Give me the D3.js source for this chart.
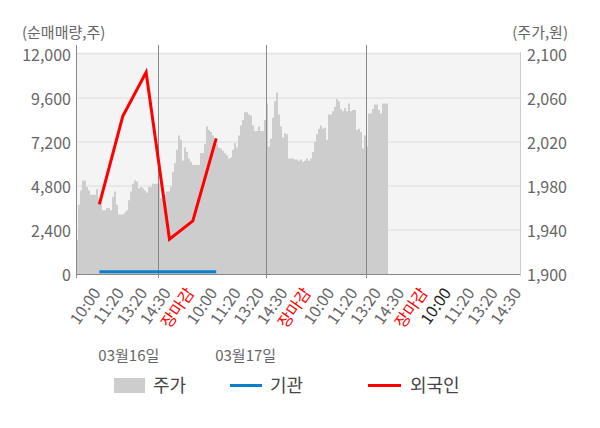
<!DOCTYPE html>
<html><head><meta charset="utf-8">
<script src="https://cdn.jsdelivr.net/npm/d3@7"></script>
<style>
html,body{margin:0;padding:0;background:#fff;}
text{font-family:"Noto Sans CJK KR","Noto Sans",sans-serif;}
</style></head>
<body>
<svg id="c" width="600" height="428"></svg>
<script>
// ---- data ----
const xLabels = ["10:00","11:20","13:20","14:30","장마감","10:00","11:20","13:20","14:30","장마감","10:00","11:20","13:20","14:30","장마감","10:00","11:20","13:20","14:30"];
const labelColors = ["#666","#666","#666","#666","red","#666","#666","#666","#666","red","#666","#666","#666","#666","red","#222","#666","#666","#666"];
const dateLabels = ["03월16일","03월17일"];
const dateLabelAt = [0, 5];
const foreignNet = [3800, 8600, 11000, 1900, 2900, 7400];
const institutionNet = [70, 70, 70, 70, 70, 70];
const priceSlots = 222;
const dayBreaks = [41, 95, 145];
const price = [1931,1963,1976,1985,1985,1979,1976,1972,1972,1972,1977,1967,1963,1958,1958,1960,1960,1958,1970,1975,
1963,1954,1954,1954,1956,1958,1967,1975,1982,1985,1984,1978,1979,1978,1976,1974,1979,1979,1982,1982,
1982,1982,1969,1968,1972,1975,1975,1979,1993,2001,2013,2026,2022,2003,2015,2011,2005,2002,1999,1999,
1999,1999,2010,2010,2018,2034,2031,2029,2026,2020,2018,2015,2014,2012,2010,2008,2005,2006,2013,2019,
2015,2026,2035,2040,2047,2047,2045,2044,2035,2030,2030,2034,2030,2030,2040,2055,2016,2023,2042,2057,
2065,2045,2034,2024,2028,2027,2005,2005,2005,2004,2004,2003,2004,2002,2003,2005,2003,2005,2011,2020,
2027,2032,2035,2032,2033,2022,2045,2045,2048,2052,2059,2057,2050,2048,2051,2048,2055,2048,2049,2049,
2031,2032,2029,2014,2026,2016,2046,2046,2050,2054,2054,2049,2046,2055,2055,2055,2051];
const volTicks = [0,2400,4800,7200,9600,12000];
const priceTicks = [1900,1940,1980,2020,2060,2100];

// ---- layout ----
const L = 76, R = 520, T = 54, B = 274;
const svg = d3.select("#c");
const yVol = d3.scaleLinear().domain([0,12000]).range([B,T]);
const yPrice = d3.scaleLinear().domain([1900,2100]).range([B,T]);
const xCat = d3.scalePoint().domain(d3.range(xLabels.length+1)).range([L,R]);
const xPrice = d3.scaleLinear().domain([0,priceSlots]).range([L,R]);

// background
svg.append("rect").attr("x",L).attr("y",52).attr("width",R-L).attr("height",B-52).attr("fill","#f4f4f4");

// gridlines
svg.append("g").selectAll("line").data(volTicks.slice(1)).join("line")
  .attr("x1",L).attr("x2",R).attr("y1",d=>yVol(d)).attr("y2",d=>yVol(d))
  .attr("stroke","#dcdcdc").attr("stroke-width",1);

// price area
svg.append("path").datum(price)
  .attr("d", d3.area().x((d,i)=>xPrice(i)).y0(B).y1(d=>yPrice(d)).curve(d3.curveStepAfter))
  .attr("fill","#cdcdcd");

// day separators
svg.append("g").selectAll("line").data(dayBreaks).join("line")
  .attr("x1",d=>Math.round(xPrice(d))+0.5).attr("x2",d=>Math.round(xPrice(d))+0.5)
  .attr("y1",45).attr("y2",B+4).attr("stroke","#888").attr("stroke-width",1);

// axes lines
svg.append("line").attr("x1",L+0.5).attr("x2",L+0.5).attr("y1",45).attr("y2",B+4).attr("stroke","#888");
svg.append("line").attr("x1",R+0.5).attr("x2",R+0.5).attr("y1",52).attr("y2",B+2).attr("stroke","#ccc");
svg.append("line").attr("x1",L).attr("x2",R).attr("y1",B+0.5).attr("y2",B+0.5).attr("stroke","#888");

// institution line
svg.append("path").datum(institutionNet)
  .attr("d", d3.line().x((d,i)=>xCat(i+1)).y(d=>yVol(d)-1))
  .attr("fill","none").attr("stroke","#0a7fce").attr("stroke-width",3);

// foreign line
svg.append("path").datum(foreignNet)
  .attr("d", d3.line().x((d,i)=>xCat(i+1)).y(d=>yVol(d)))
  .attr("fill","none").attr("stroke","#ff0000").attr("stroke-width",3).attr("stroke-linejoin","miter");

// axis labels
const fmt = d3.format(",");
svg.append("g").selectAll("text").data(volTicks).join("text")
  .attr("x",71).attr("y",d=>yVol(d)+1).attr("dy","0.36em").attr("text-anchor","end")
  .attr("font-size",16).attr("fill","#666").text(d=>fmt(d));
svg.append("g").selectAll("text").data(priceTicks).join("text")
  .attr("x",527).attr("y",d=>yPrice(d)+1).attr("dy","0.36em").attr("text-anchor","start")
  .attr("font-size",16).attr("fill","#666").text(d=>fmt(d));
svg.append("text").attr("x",22).attr("y",38).attr("font-size",15).attr("fill","#666").text("(순매매량,주)");
svg.append("text").attr("x",568).attr("y",38).attr("text-anchor","end").attr("font-size",15).attr("fill","#666").text("(주가,원)");

// x labels
svg.append("g").selectAll("text").data(xLabels).join("text")
  .attr("transform",(d,i)=>`translate(${xCat(i+1)+2},293) rotate(-55)`)
  .attr("text-anchor","end").attr("font-size",16)
  .attr("fill",(d,i)=>labelColors[i]).text(d=>d);

// date labels
svg.append("g").selectAll("text").data(dateLabels).join("text")
  .attr("x",(d,i)=>xCat(dateLabelAt[i]+1)-1).attr("y",361)
  .attr("font-size",15).attr("fill","#666").text(d=>d);

// legend
const lg = svg.append("g");
lg.append("rect").attr("x",114).attr("y",378).attr("width",31).attr("height",15).attr("fill","#cdcdcd");
lg.append("text").attr("x",153).attr("y",392).attr("font-size",18).attr("fill","#444").text("주가");
lg.append("line").attr("x1",230).attr("x2",262).attr("y1",385.5).attr("y2",385.5).attr("stroke","#0a7fce").attr("stroke-width",3);
lg.append("text").attr("x",270).attr("y",392).attr("font-size",18).attr("fill","#444").text("기관");
lg.append("line").attr("x1",368).attr("x2",401).attr("y1",385.5).attr("y2",385.5).attr("stroke","#ff0000").attr("stroke-width",3);
lg.append("text").attr("x",410).attr("y",392).attr("font-size",18).attr("fill","#444").text("외국인");
</script>
</body></html>
